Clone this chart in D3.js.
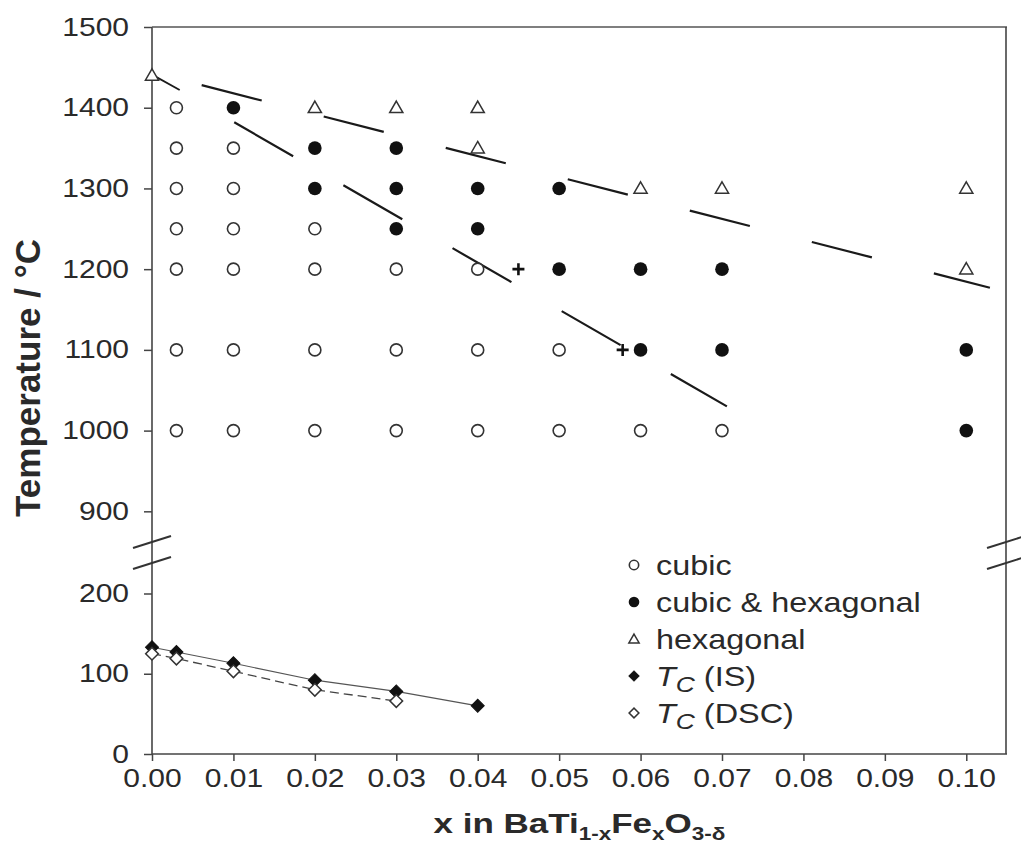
<!DOCTYPE html>
<html>
<head>
<meta charset="utf-8">
<script src="https://cdn.jsdelivr.net/npm/d3@7"></script>
<style>
    body { margin: 0; background: #fff; }
    svg text { font-family: "Liberation Sans", Arial, sans-serif; fill: #2a2a2a; }
</style>
</head>
<body>
<div id="container"></div>
<script>
// phase observations, [x, T in °C]
const cubic = [
    [0.003, 1400], [0.003, 1350], [0.003, 1300], [0.003, 1250], [0.003, 1200], [0.003, 1100], [0.003, 1000],
    [0.01, 1350], [0.01, 1300], [0.01, 1250], [0.01, 1200], [0.01, 1100], [0.01, 1000],
    [0.02, 1250], [0.02, 1200], [0.02, 1100], [0.02, 1000],
    [0.03, 1200], [0.03, 1100], [0.03, 1000],
    [0.04, 1200], [0.04, 1100], [0.04, 1000],
    [0.05, 1100], [0.05, 1000],
    [0.06, 1000], [0.07, 1000]
];
const cubicHex = [
    [0.01, 1400],
    [0.02, 1350], [0.02, 1300],
    [0.03, 1350], [0.03, 1300], [0.03, 1250],
    [0.04, 1300], [0.04, 1250],
    [0.05, 1300], [0.05, 1200],
    [0.06, 1200], [0.06, 1100],
    [0.07, 1200], [0.07, 1100],
    [0.10, 1100], [0.10, 1000]
];
const hexagonal = [
    [0.0, 1440], [0.02, 1400], [0.03, 1400], [0.04, 1400], [0.04, 1350],
    [0.06, 1300], [0.07, 1300], [0.10, 1300], [0.10, 1200]
];
const plusPts = [[0.045, 1200], [0.0578, 1100]];

// Curie temperatures
const tcIS = [[0, 133], [0.003, 127], [0.01, 113], [0.02, 92], [0.03, 78], [0.04, 60]];
const tcDSC = [[0, 125], [0.003, 119], [0.01, 103], [0.02, 80], [0.03, 66]];

// phase boundaries (end points)
const hexLine = [[0.0061, 1428], [0.1029, 1177]];
const hexStub = [[0.0, 1441], [0.0034, 1422]];
const mixLine = [[0.0101, 1382], [0.0706, 1030]];

const xTicks = [0, 0.01, 0.02, 0.03, 0.04, 0.05, 0.06, 0.07, 0.08, 0.09, 0.10];
const yTicksHigh = [900, 1000, 1100, 1200, 1300, 1400, 1500];
const yTicksLow = [0, 100, 200];
const legendLabels = ["cubic", "cubic & hexagonal", "hexagonal", "(IS)", "(DSC)"];
const legendKinds = ["open", "filled", "tri", "dfill", "dopen"];

const width = 1021;
const height = 856;
const stretch = 1.2; // text in the scan is a bit wide

const x = d3.scaleLinear().domain([0, 0.105]).range([152, 1007]);
const yHigh = d3.scaleLinear().domain([862, 1500]).range([542, 27]);
const yLow = d3.scaleLinear().domain([0, 238]).range([754, 563]);
const y = T => T > 500 ? yHigh(T) : yLow(T);

const svg = d3.create("svg")
    .attr("width", width)
    .attr("height", height)
    .attr("viewBox", [0, 0, width, height]);

svg.append("rect").attr("width", width).attr("height", height).attr("fill", "#fff");

const plotLeft = x.range()[0], plotRight = x.range()[1];
const plotTop = yHigh.range()[1], plotBottom = yLow.range()[0];

// axes
const xAxis = svg.append("g")
    .attr("transform", `translate(0,${plotBottom})`)
    .call(d3.axisBottom(x).tickValues(xTicks).tickFormat(d3.format(".2f"))
        .tickSizeInner(7).tickSizeOuter(0).tickPadding(8));

const yAxisHigh = svg.append("g")
    .attr("transform", `translate(${plotLeft},0)`)
    .call(d3.axisLeft(yHigh).tickValues(yTicksHigh).tickFormat(d3.format("d"))
        .tickSizeInner(8).tickSizeOuter(0));

const yAxisLow = svg.append("g")
    .attr("transform", `translate(${plotLeft},0)`)
    .call(d3.axisLeft(yLow).tickValues(yTicksLow).tickFormat(d3.format("d"))
        .tickSizeInner(8).tickSizeOuter(0));

[xAxis, yAxisHigh, yAxisLow].forEach(g => {
    g.select(".domain").remove();
    g.selectAll(".tick line").attr("stroke", "#444").attr("stroke-width", 1.5);
    g.selectAll("text")
        .attr("font-size", 25)
        .attr("fill", "#333")
        .attr("transform", `scale(${stretch},1)`);
});
yAxisHigh.selectAll("text").attr("x", -23 / stretch);
yAxisLow.selectAll("text").attr("x", -23 / stretch);

// frame
const frame = svg.append("g").attr("stroke", "#444").attr("stroke-width", 1.6).attr("fill", "none");
frame.append("line").attr("x1", plotLeft).attr("x2", plotLeft).attr("y1", plotTop).attr("y2", plotBottom);
frame.append("line").attr("x1", plotLeft).attr("x2", plotRight).attr("y1", plotBottom).attr("y2", plotBottom);
frame.append("line").attr("x1", plotLeft).attr("x2", plotRight).attr("y1", plotTop).attr("y2", plotTop).attr("stroke", "#555");
frame.append("line").attr("x1", plotRight - 1).attr("x2", plotRight - 1).attr("y1", plotTop).attr("y2", plotBottom);

// axis break marks
const breakY = [yHigh.range()[0], yLow.range()[1]];
const breaks = svg.append("g").attr("stroke", "#333").attr("stroke-width", 2);
[plotLeft, plotRight - 1].forEach(cx => {
    breakY.forEach(by => {
        breaks.append("line")
            .attr("x1", cx - 19).attr("y1", by + 6)
            .attr("x2", cx + 19).attr("y2", by - 6);
    });
});

// phase boundaries
const line = d3.line().x(d => x(d[0])).y(d => y(d[1]));
svg.append("path").attr("d", line(hexLine))
    .attr("fill", "none").attr("stroke", "#1a1a1a").attr("stroke-width", 2.2)
    .attr("stroke-dasharray", "62,64");
svg.append("path").attr("d", line(hexStub))
    .attr("fill", "none").attr("stroke", "#1a1a1a").attr("stroke-width", 1.8);
svg.append("path").attr("d", line(mixLine))
    .attr("fill", "none").attr("stroke", "#1a1a1a").attr("stroke-width", 2.2)
    .attr("stroke-dasharray", "68,58");

// Tc curves
svg.append("path").attr("d", line(tcIS))
    .attr("fill", "none").attr("stroke", "#555").attr("stroke-width", 1.1);
svg.append("path").attr("d", line(tcDSC))
    .attr("fill", "none").attr("stroke", "#444").attr("stroke-width", 1.3)
    .attr("stroke-dasharray", "9,5");

// marker helpers
const triPath = s => d3.symbol(d3.symbolTriangle, s)();
const diaPath = s => d3.symbol(d3.symbolSquare, s)();

function drawMarker(g, kind, big) {
    const k = big ? 1 : 0.78;
    if (kind === "open") {
        g.append("circle").attr("r", 6 * k).attr("fill", "#fff").attr("stroke", "#333").attr("stroke-width", 1.6);
    } else if (kind === "filled") {
        g.append("circle").attr("r", 6.8 * k).attr("fill", "#111");
    } else if (kind === "tri") {
        g.append("path").attr("d", triPath(75 * k * k)).attr("transform", "translate(0,1)")
            .attr("fill", "#fff").attr("stroke", "#333").attr("stroke-width", 1.5);
    } else if (kind === "dfill") {
        g.append("path").attr("d", diaPath(85 * k * k)).attr("transform", "rotate(45)")
            .attr("fill", "#111").attr("stroke", "#111").attr("stroke-width", 1);
    } else if (kind === "dopen") {
        g.append("path").attr("d", diaPath(80 * k * k)).attr("transform", "rotate(45)")
            .attr("fill", "#fff").attr("stroke", "#333").attr("stroke-width", 1.5);
    }
}

function drawSeries(data, kind) {
    svg.append("g").selectAll("g")
        .data(data)
        .join("g")
        .attr("transform", d => `translate(${x(d[0])},${y(d[1])})`)
        .each(function () { drawMarker(d3.select(this), kind, true); });
}

drawSeries(cubic, "open");
drawSeries(cubicHex, "filled");
drawSeries(hexagonal, "tri");
drawSeries(tcIS, "dfill");
drawSeries(tcDSC, "dopen");

svg.append("g").selectAll("path")
    .data(plusPts)
    .join("path")
    .attr("d", "M-6,0H6M0,-6V6")
    .attr("transform", d => `translate(${x(d[0])},${y(d[1])})`)
    .attr("stroke", "#111").attr("stroke-width", 2.6);

// legend
const legend = svg.append("g");
const rowY = d3.scalePoint().domain(d3.range(legendLabels.length)).range([565, 713]);
legendLabels.forEach((label, i) => {
    const g = legend.append("g").attr("transform", `translate(634,${rowY(i)})`);
    drawMarker(g, legendKinds[i], false);
    const t = legend.append("text")
        .attr("transform", `translate(656,${rowY(i) + 10}) scale(${stretch},1)`)
        .attr("font-size", 27);
    if (i < 3) {
        t.text(label);
    } else {
        t.append("tspan").attr("font-style", "italic").text("T");
        t.append("tspan").attr("font-style", "italic").attr("font-size", 22).attr("dy", 6).text("C");
        t.append("tspan").attr("dy", -6).text(" " + label);
    }
});

// axis titles
svg.append("text")
    .attr("transform", "translate(40,378) rotate(-90)")
    .attr("text-anchor", "middle")
    .attr("font-size", 35)
    .attr("font-weight", "bold")
    .text("Temperature / °C");

const xt = svg.append("text")
    .attr("transform", `translate(${(plotLeft + plotRight) / 2},833) scale(1.25,1)`)
    .attr("text-anchor", "middle")
    .attr("font-size", 28)
    .attr("font-weight", "bold");
xt.append("tspan").text("x in BaTi");
xt.append("tspan").attr("font-size", 18).attr("dy", 7).text("1-x");
xt.append("tspan").attr("dy", -7).text("Fe");
xt.append("tspan").attr("font-size", 18).attr("dy", 7).text("x");
xt.append("tspan").attr("dy", -7).text("O");
xt.append("tspan").attr("font-size", 18).attr("dy", 7).text("3-δ");

document.getElementById("container").appendChild(svg.node());
</script>
</body>
</html>
